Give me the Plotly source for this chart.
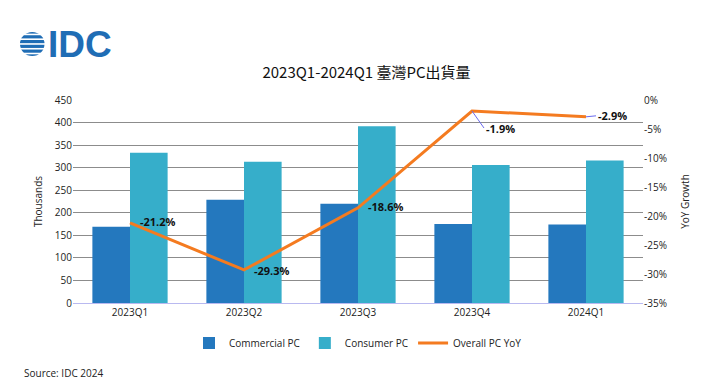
import plotly.graph_objects as go

quarters = ["2023Q1", "2023Q2", "2023Q3", "2023Q4", "2024Q1"]
commercial = [169, 229, 220, 175, 174]
consumer = [333, 313, 392, 306, 316]
yoy = [-21.2, -29.3, -18.6, -1.9, -2.9]
yoy_labels = ["-21.2%", "-29.3%", "-18.6%", "-1.9%", "-2.9%"]
left_ticks = [0, 50, 100, 150, 200, 250, 300, 350, 400, 450]
right_ticks = [0, -5, -10, -15, -20, -25, -30, -35]

FONT = "Open Sans, DejaVu Sans, sans-serif"
C_COM = "#2478BE"
C_CON = "#36AECA"
C_LINE = "#F47B20"

fig = go.Figure()
fig.add_trace(go.Bar(x=quarters, y=commercial, name="Commercial PC", marker_color=C_COM,
                     marker_line_width=0))
fig.add_trace(go.Bar(x=quarters, y=consumer, name="Consumer PC", marker_color=C_CON,
                     marker_line_width=0))
fig.add_trace(go.Scatter(x=quarters, y=yoy, name="Overall PC YoY", mode="lines",
                         line=dict(color=C_LINE, width=3), yaxis="y2"))

annotations = []
for i, (q, v, t) in enumerate(zip(quarters, yoy, yoy_labels)):
    if i == 3:
        annotations.append(dict(x=q, y=v, xref="x", yref="y2", text="<b>" + t + "</b>",
                                showarrow=True, arrowhead=0, arrowwidth=1, arrowcolor="#6b6bef",
                                ax=12, ay=17, xanchor="left", yanchor="middle",
                                font=dict(size=11, color="#111", family=FONT)))
    elif i == 4:
        annotations.append(dict(x=q, y=v, xref="x", yref="y2", text="<b>" + t + "</b>",
                                showarrow=True, arrowhead=0, arrowwidth=1, arrowcolor="#6b6bef",
                                ax=10, ay=-1, xanchor="left", yanchor="middle",
                                font=dict(size=11, color="#111", family=FONT)))
    else:
        annotations.append(dict(x=q, y=v, xref="x", yref="y2", text="<b>" + t + "</b>",
                                showarrow=False, xanchor="left", yanchor="middle", xshift=8,
                                yshift=1 if i != 1 else -1,
                                font=dict(size=11, color="#111", family=FONT)))

annotations.append(dict(text="Source: IDC 2024", xref="paper", yref="paper", x=-0.089, y=-0.345,
                        xanchor="left", yanchor="middle", showarrow=False,
                        font=dict(size=10, color="#222", family=FONT)))
annotations.append(dict(text="<b>IDC</b>", xref="paper", yref="paper", x=-0.048, y=1.272,
                        xanchor="left", yanchor="middle", showarrow=False,
                        font=dict(size=37, color="#1F6DB5", family="Liberation Sans, Arial, sans-serif")))

shapes = [dict(type="circle", xref="paper", yref="paper", x0=-0.093, x1=-0.05, y0=1.217, y1=1.335,
               fillcolor="#1F6DB5", line=dict(width=0), layer="above")]
for k in range(5):
    yy = 1.229 + k * 0.0235
    shapes.append(dict(type="line", xref="paper", yref="paper", x0=-0.1, x1=-0.045, y0=yy, y1=yy,
                       line=dict(color="white", width=1.6), layer="above"))

fig.update_layout(
    width=717, height=381,
    margin=dict(l=65, r=82, t=92, b=86),
    paper_bgcolor="white", plot_bgcolor="white",
    font=dict(family=FONT, size=10, color="#222"),
    title=dict(text="2023Q1-2024Q1 臺灣PC出貨量", x=0.5, xanchor="center", y=0.829, yanchor="middle",
               font=dict(size=15, color="#111", family="Noto Sans CJK TC, Open Sans, sans-serif")),
    barmode="group", bargap=0.34, bargroupgap=0,
    xaxis=dict(showgrid=False, showline=True, linecolor="#b9b9f0", linewidth=1, ticks="",
               tickfont=dict(size=10, color="#222")),
    yaxis=dict(range=[0, 450], tickvals=left_ticks, showgrid=True, gridcolor="#8c8c8c", gridwidth=1,
               zeroline=False, title=dict(text="Thousands", font=dict(size=10), standoff=10),
               tickfont=dict(size=10, color="#222")),
    yaxis2=dict(range=[-35, 0], tickvals=right_ticks, ticktext=[f"{v}%" for v in right_ticks],
                overlaying="y", side="right", showgrid=False, zeroline=False,
                title=dict(text="YoY Growth", font=dict(size=10), standoff=16),
                tickfont=dict(size=10, color="#222")),
    legend=dict(orientation="h", x=0.5, xanchor="center", y=-0.197, yanchor="middle",
                font=dict(size=10, color="#222"), itemwidth=30, traceorder="normal"),
    annotations=annotations,
    shapes=shapes,
)

fig.write_html("out.html")
